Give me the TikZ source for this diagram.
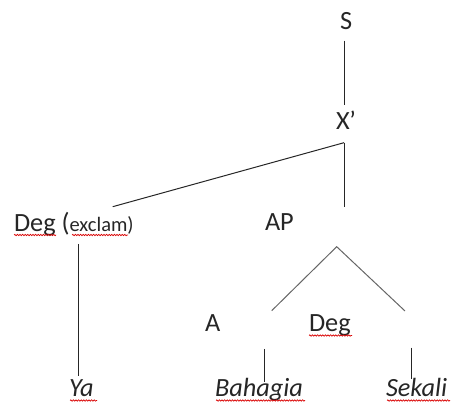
\documentclass[tikz,border=0pt]{standalone}
\usepackage{fontspec}
\setmainfont{Carlito}
\usetikzlibrary{decorations.pathmorphing}
\tikzset{
  lbl/.style={inner sep=0pt, outer sep=0pt, anchor=base west, font=\fontsize{26.3}{31}\selectfont, text=black!85},
  branch/.style={line width=1pt, black!85},
  tri/.style={line width=1pt, black!60},
  squig/.style={red!85!black, line width=0.7pt, decorate, decoration={snake, amplitude=0.7pt, segment length=2.6pt}}
}
\begin{document}
\begin{tikzpicture}[x=1pt,y=-1pt]
\useasboundingbox (0,0) rectangle (453,403);
% labels
\node[lbl] (S) at (340,30) {S};
\node[lbl] (X) at (336,130) {X’};
\node[lbl] (Dg) at (14,231.7) {Deg};
\node[lbl, anchor=base west] (Ex) at (Dg.base east) {\ (\fontsize{20.5}{25}\selectfont exclam)};
\node[lbl] (AP) at (265,231) {AP};
\node[lbl] (A) at (205,331.7) {A};
\node[lbl] (Dg2) at (309,331.7) {Deg};
\node[lbl] (Ya) at (69,396.5) {\itshape Ya};
\node[lbl] (Ba) at (215,396.5) {\itshape Bahagia};
\node[lbl] (Se) at (386,396.5) {\itshape Sekali};
% connector end points
\coordinate (sTop) at (344,40.7);
\coordinate (xBot) at (344,105.3);
\coordinate (xApex) at (344,142.7);
\coordinate (degEnd) at (112.7,206.7);
\coordinate (apEnd) at (344,207.3);
\coordinate (apApex) at (336.7,246.7);
\coordinate (aEnd) at (271.7,310.7);
\coordinate (dEnd) at (405,311);
\coordinate (exBot) at (78.7,244);
\coordinate (yaTop) at (78.7,376);
\coordinate (aBot) at (264.3,349);
\coordinate (baTop) at (264.3,382);
\coordinate (dBot) at (411,347.7);
\coordinate (seTop) at (411,379);
% connectors
\draw[branch] (sTop) -- (xBot);
\draw[branch] (xApex) -- (degEnd);
\draw[branch] (xApex) -- (apEnd);
\draw[tri] (aEnd) -- (apApex) -- (dEnd);
\draw[branch] (exBot) -- (yaTop);
\draw[branch] (aBot) -- (baTop);
\draw[branch] (dBot) -- (seTop);
% spell-check underlines
\draw[squig] (14,235) -- (56,235);
\draw[squig] (72,235) -- (128,235);
\draw[squig] (70,400.5) -- (97,400.5);
\draw[squig] (309,335.5) -- (352,335.5);
\draw[squig] (216,400.5) -- (305,400.5);
\draw[squig] (387,400.5) -- (450,400.5);
\end{tikzpicture}
\end{document}
